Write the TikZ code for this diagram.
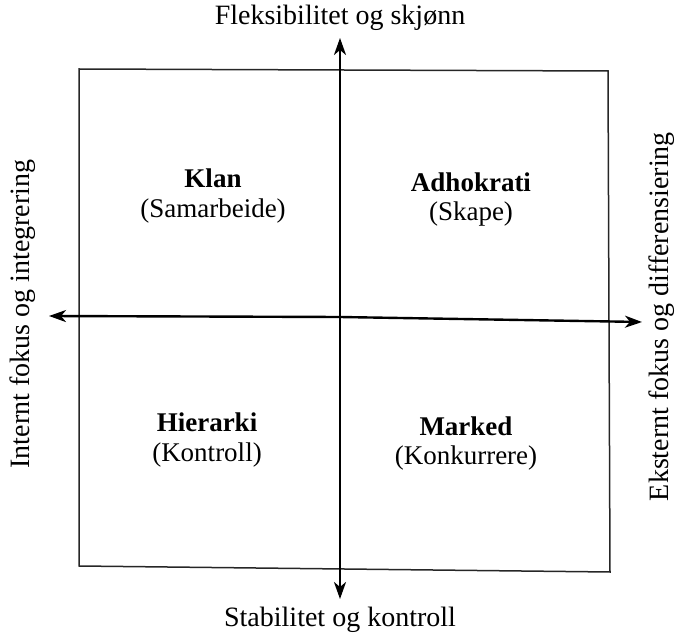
\documentclass[tikz,border=0pt]{standalone}
\usepackage{fontspec}
\setmainfont{Liberation Serif}
\usetikzlibrary{arrows.meta}
\begin{document}
\begin{tikzpicture}[x=1pt,y=-1pt,
  axis/.style={line width=2.4pt,-{Stealth[length=17pt,width=12pt,inset=5pt]}},
  boxline/.style={line width=1.5pt,draw=black!85},
  lab/.style={font=\fontsize{28}{32}\selectfont,inner sep=0pt},
  qtitle/.style={font=\fontsize{27}{30}\selectfont\bfseries,inner sep=0pt},
  qsub/.style={font=\fontsize{27}{30}\selectfont,inner sep=0pt}]
\useasboundingbox (0,0) rectangle (681,639);
\draw[boxline] (79,69) -- (608,71) -- (610,572) -- (79,566) -- cycle;
\coordinate (c) at (340,317);
\coordinate (t) at (340,38);
\coordinate (b) at (340,599);
\coordinate (l) at (49,316);
\coordinate (r) at (642,322);
\draw[axis] (c) -- (t);
\draw[axis] (c) -- (b);
\draw[axis] (c) -- (l);
\draw[axis] (c) -- (r);
\node[lab] (top) at (340,18) {Fleksibilitet og skjønn};
\node[lab] (bot) at (340,620) {Stabilitet og kontroll};
\node[lab,rotate=90] (left) at (23,314) {Internt fokus og integrering};
\node[lab,rotate=90,anchor=east] (right) at (662,132) {Eksternt fokus og differensiering};
\node[qtitle] (k1) at (213,178) {Klan};
\node[qsub] (k2) at (213,211) {(Samarbeide)};
\node[qtitle] (a1) at (471,182) {Adhokrati};
\node[qsub] (a2) at (471,214) {(Skape)};
\node[qtitle] (h1) at (207,422) {Hierarki};
\node[qsub] (h2) at (207,455) {(Kontroll)};
\node[qtitle] (m1) at (466,426) {Marked};
\node[qsub] (m2) at (466,458) {(Konkurrere)};
\end{tikzpicture}
\end{document}
